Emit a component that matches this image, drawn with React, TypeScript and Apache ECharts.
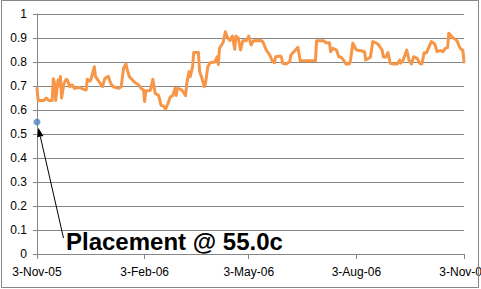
import React, { useEffect, useRef } from "react";
import * as echarts from "echarts";

const lineDates = [
  "2005-11-03","2005-11-04","2005-11-09","2005-11-11","2005-11-13","2005-11-16","2005-11-17","2005-11-18","2005-11-19","2005-11-21",
  "2005-11-22","2005-11-23","2005-11-24","2005-11-26","2005-11-28","2005-11-29","2005-12-01","2005-12-03","2005-12-05","2005-12-09",
  "2005-12-13","2005-12-15","2005-12-16","2005-12-18","2005-12-19","2005-12-22","2005-12-23","2005-12-26","2005-12-29","2005-12-31",
  "2006-01-03","2006-01-05","2006-01-07","2006-01-12","2006-01-14","2006-01-16","2006-01-18","2006-01-19","2006-01-21","2006-01-23",
  "2006-01-25","2006-01-27","2006-01-29","2006-01-31","2006-02-02","2006-02-03","2006-02-04","2006-02-07","2006-02-08","2006-02-10",
  "2006-02-12","2006-02-15","2006-02-17","2006-02-19","2006-02-21","2006-02-23","2006-02-25","2006-02-27","2006-03-01","2006-03-02",
  "2006-03-03","2006-03-06","2006-03-08","2006-03-10","2006-03-11","2006-03-13","2006-03-14","2006-03-16","2006-03-17","2006-03-21",
  "2006-03-22","2006-03-24","2006-03-26","2006-03-27","2006-03-29","2006-03-31","2006-04-04","2006-04-06","2006-04-07","2006-04-08",
  "2006-04-11","2006-04-13","2006-04-15","2006-04-17","2006-04-19","2006-04-21","2006-04-22","2006-04-24","2006-04-26","2006-04-28",
  "2006-05-01","2006-05-03","2006-05-05","2006-05-07","2006-05-13","2006-05-15","2006-05-18","2006-05-21","2006-05-23","2006-05-25",
  "2006-05-26","2006-05-30","2006-05-31","2006-06-01","2006-06-04","2006-06-07","2006-06-08","2006-06-12","2006-06-14","2006-06-16",
  "2006-06-29","2006-06-30","2006-07-06","2006-07-08","2006-07-11","2006-07-12","2006-07-14","2006-07-17","2006-07-19","2006-07-21",
  "2006-07-23","2006-07-25","2006-07-28","2006-07-29","2006-07-31","2006-08-03","2006-08-06","2006-08-10","2006-08-11","2006-08-15",
  "2006-08-17","2006-08-20","2006-08-22","2006-08-25","2006-08-26","2006-08-28","2006-08-30","2006-09-01","2006-09-04","2006-09-07",
  "2006-09-09","2006-09-10","2006-09-12","2006-09-15","2006-09-17","2006-09-19","2006-09-21","2006-09-24","2006-09-26","2006-09-28",
  "2006-09-30","2006-10-02","2006-10-06","2006-10-09","2006-10-11","2006-10-14","2006-10-16","2006-10-18","2006-10-20","2006-10-21",
  "2006-10-24","2006-10-28","2006-10-30","2006-11-01","2006-11-02","2006-11-03",
];

const lineValues = [
  0.69,0.64,0.64,0.65,0.64,0.64,0.73,0.71,0.64,0.725,
  0.70,0.74,0.65,0.71,0.728,0.725,0.697,0.705,0.69,0.694,
  0.686,0.683,0.728,0.72,0.725,0.78,0.739,0.718,0.697,0.732,
  0.74,0.711,0.697,0.69,0.697,0.774,0.792,0.77,0.739,0.728,
  0.718,0.711,0.704,0.69,0.683,0.635,0.68,0.68,0.683,0.728,
  0.67,0.66,0.62,0.617,0.604,0.628,0.655,0.66,0.69,0.66,
  0.69,0.686,0.676,0.66,0.711,0.76,0.739,0.78,0.84,0.84,
  0.76,0.732,0.697,0.71,0.78,0.797,0.80,0.822,0.79,0.857,
  0.88,0.926,0.90,0.89,0.908,0.853,0.908,0.90,0.85,0.889,
  0.889,0.908,0.871,0.889,0.89,0.885,0.85,0.829,0.805,0.797,
  0.822,0.825,0.82,0.795,0.792,0.801,0.829,0.85,0.861,0.805,
  0.805,0.889,0.889,0.88,0.88,0.843,0.857,0.85,0.822,0.82,
  0.808,0.792,0.792,0.808,0.878,0.85,0.848,0.843,0.808,0.82,
  0.885,0.88,0.871,0.85,0.822,0.82,0.839,0.795,0.792,0.792,
  0.808,0.795,0.808,0.85,0.808,0.792,0.822,0.815,0.795,0.792,
  0.839,0.839,0.885,0.875,0.843,0.848,0.843,0.857,0.86,0.92,
  0.903,0.889,0.864,0.85,0.85,0.80,
];

const placementDate = "2005-11-03";
const placementValue = 0.55;
const placementLabel = "Placement @ 55.0c";

const xTickDates = ["2005-11-03", "2006-02-03", "2006-05-03", "2006-08-03", "2006-11-03"];
const yMin = 0;
const yMax = 1;
const yInterval = 0.1;

const monthNames = ["Jan","Feb","Mar","Apr","May","Jun","Jul","Aug","Sep","Oct","Nov","Dec"];

function ts(s: string): number {
  const [y, m, d] = s.split("-").map(Number);
  return new Date(y, m - 1, d).getTime();
}

function fmtDate(v: number): string {
  const d = new Date(v);
  return `${d.getDate()}-${monthNames[d.getMonth()]}-${String(d.getFullYear()).slice(2)}`;
}

export default function App() {
  const ref = useRef<HTMLDivElement>(null);

  useEffect(() => {
    if (!ref.current) return;
    const chart = echarts.init(ref.current, null, { renderer: "svg" });
    const gray = "#868686";
    const font = "'Liberation Sans', Arial, sans-serif";
    const tickTimes = xTickDates.map(ts);

    chart.setOption({
      animation: false,
      backgroundColor: "#ffffff",
      grid: {
        left: 37,
        right: 17,
        top: 14,
        bottom: 35,
        containLabel: false,
        outerBoundsMode: "none",
      },
      xAxis: {
        type: "value",
        min: tickTimes[0],
        max: tickTimes[tickTimes.length - 1],
        axisLine: { show: true, lineStyle: { color: gray, width: 1 } },
        axisTick: { show: true, length: 5, customValues: tickTimes, lineStyle: { color: gray } },
        axisLabel: {
          customValues: tickTimes,
          formatter: (v: number) => fmtDate(v),
          color: "#000",
          fontFamily: font,
          fontSize: 12,
          margin: 12,
          hideOverlap: false,
        },
        splitLine: { show: false },
      },
      yAxis: {
        type: "value",
        min: yMin,
        max: yMax,
        interval: yInterval,
        axisLine: { show: true, lineStyle: { color: gray, width: 1 } },
        axisTick: { show: true, length: 4, lineStyle: { color: gray } },
        axisLabel: { color: "#000", fontFamily: font, fontSize: 12, margin: 10 },
        splitLine: { show: true, lineStyle: { color: gray, width: 1 } },
      },
      series: [
        {
          type: "line",
          data: lineDates.map((d, i) => [ts(d), lineValues[i]]),
          showSymbol: false,
          lineStyle: { color: "#F79646", width: 3, cap: "round", join: "round" },
          itemStyle: { color: "#F79646" },
          z: 3,
        },
        {
          type: "scatter",
          data: [[ts(placementDate), placementValue]],
          symbol: "circle",
          symbolSize: 7,
          itemStyle: { color: "#4F81BD" },
          z: 4,
        },
      ],
    });

    const dot = chart.convertToPixel({ seriesIndex: 1 }, [ts(placementDate), placementValue]) as number[];
    const tail = [63.5, 238];
    const dx = tail[0] - dot[0];
    const dy = tail[1] - dot[1];
    const len = Math.sqrt(dx * dx + dy * dy);
    const ux = dx / len;
    const uy = dy / len;
    const tip = [dot[0] + ux * 6, dot[1] + uy * 6];
    const headLen = 9;
    const headHalf = 3.2;
    const base = [tip[0] + ux * headLen, tip[1] + uy * headLen];
    const px = -uy;
    const py = ux;

    chart.setOption({
      graphic: [
        {
          type: "rect",
          shape: { x: 1.5, y: 0.5, width: 477, height: 287 },
          style: { fill: "none", stroke: gray, lineWidth: 1 },
          silent: true,
          z: 10,
        },
        {
          type: "line",
          shape: { x1: tail[0], y1: tail[1], x2: base[0], y2: base[1] },
          style: { stroke: "#000", lineWidth: 1 },
          z: 10,
        },
        {
          type: "polygon",
          shape: {
            points: [
              [tip[0], tip[1]],
              [base[0] + px * headHalf, base[1] + py * headHalf],
              [base[0] - px * headHalf, base[1] - py * headHalf],
            ],
          },
          style: { fill: "#000" },
          z: 10,
        },
        {
          type: "text",
          x: 66,
          y: 241,
          style: {
            text: placementLabel,
            fill: "#000",
            font: `bold 24px ${font}`,
            textAlign: "left",
            textVerticalAlign: "middle",
          },
          z: 10,
        },
      ],
    });

    return () => chart.dispose();
  }, []);

  return (
    <div
      ref={ref}
      style={{ position: "fixed", left: 0, top: 0, width: 481, height: 289 }}
    />
  );
}
